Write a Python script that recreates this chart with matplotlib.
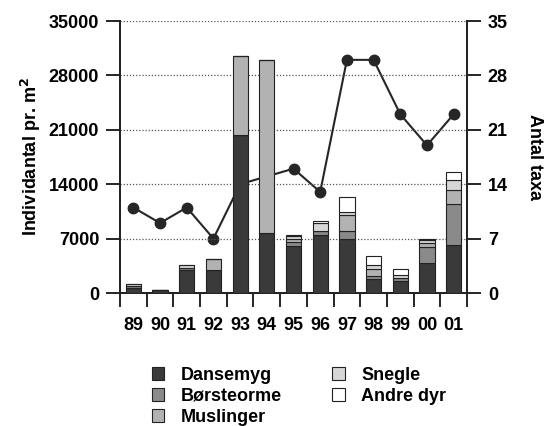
import numpy as np
import matplotlib.pyplot as plt

plt.rcParams['font.family'] = ['Liberation Sans', 'DejaVu Sans']
plt.rcParams['font.weight'] = 'bold'
plt.rcParams['font.size'] = 13

years = ['89', '90', '91', '92', '93', '94', '95', '96', '97', '98', '99', '00', '01']

# individantal pr. m2, stacked
dansemyg   = [700, 430, 2900, 2950, 20300, 7700, 6000, 7500, 7000, 1750, 1600, 3800, 6200]
borsteorme = [200, 0, 300, 0, 0, 0, 500, 500, 1000, 500, 300, 2100, 5300]
muslinger  = [0, 0, 0, 1450, 10200, 22300, 500, 0, 2000, 900, 0, 500, 1700]
snegle     = [300, 0, 350, 0, 0, 0, 300, 1000, 400, 500, 400, 400, 1300]
andre_dyr  = [0, 0, 0, 0, 0, 0, 200, 300, 2000, 1150, 850, 200, 1100]

# antal taxa
antal_taxa = [11, 9, 11, 7, 14, 15, 16, 13, 30, 30, 23, 19, 23]

fig = plt.figure(figsize=(5.44, 4.26), dpi=100)
ax = fig.add_axes([0.2206, 0.3122, 0.6379, 0.6385])
ax2 = ax.twinx()

x = np.arange(len(years))
series = [
    ('Dansemyg', dansemyg, '#3a3a3a'),
    ('Børsteorme', borsteorme, '#8a8a8a'),
    ('Muslinger', muslinger, '#b2b2b2'),
    ('Snegle', snegle, '#d6d6d6'),
    ('Andre dyr', andre_dyr, 'white'),
]
bottom = np.zeros(len(years))
handles = []
for name, vals, col in series:
    b = ax2.bar(x, vals, 0.57, bottom=bottom, color=col, edgecolor='#222222',
                linewidth=0.8, label=name, zorder=3)
    handles.append(b)
    bottom += np.array(vals)

# line behind bars
ax.plot(x, antal_taxa, color='#262626', lw=1.5, marker='o', ms=7.5, zorder=2)
ax.set_ylim(0, 35)
ax2.set_ylim(0, 35000)
ax.set_zorder(1)
ax2.set_zorder(2)
ax2.patch.set_visible(False)

# left axis: individantal (bars live on ax2, so swap sides)
ax2.yaxis.tick_left()
ax2.yaxis.set_label_position('left')
ax.yaxis.tick_right()
ax.yaxis.set_label_position('right')

ax2.set_yticks([0, 7000, 14000, 21000, 28000, 35000])
ax.set_yticks([0, 7, 14, 21, 28, 35])
ax2.grid(axis='y', linestyle=(0, (1, 1.5)), color='#555555', lw=0.9)
ax2.set_axisbelow(True)

ax.set_xlim(-0.5, 12.5)
ax2.set_xlim(-0.5, 12.5)
ax.set_xticks(x)
ax.set_xticklabels(years)
ax.set_xticks(np.arange(-0.5, 13, 1), minor=True)
ax.tick_params(axis='x', which='major', length=0, pad=17)
ax.tick_params(axis='x', which='minor', length=10, width=1.2, direction='out')
ax2.tick_params(axis='x', which='both', length=0, labelbottom=False)
for a in (ax, ax2):
    a.tick_params(axis='y', length=10, width=1.2, direction='out', pad=5)
    a.spines['top'].set_visible(False)
    for s in ('left', 'right', 'bottom'):
        a.spines[s].set_linewidth(1.3)
        a.spines[s].set_color('#222222')

ax2.set_ylabel('Individantal pr. m$^2$', fontweight='bold', labelpad=4)
ax.set_ylabel('Antal taxa', rotation=-90, labelpad=25, fontweight='bold')

fig.legend(handles=handles, loc='upper left', bbox_to_anchor=(0.262, 0.16), ncol=2,
           frameon=False, handlelength=0.7, handleheight=0.7, handletextpad=0.9,
           labelspacing=0.22, columnspacing=2.8, borderpad=0, prop={'weight': 'bold', 'size': 13})

fig.savefig('out.png', dpi=100)
